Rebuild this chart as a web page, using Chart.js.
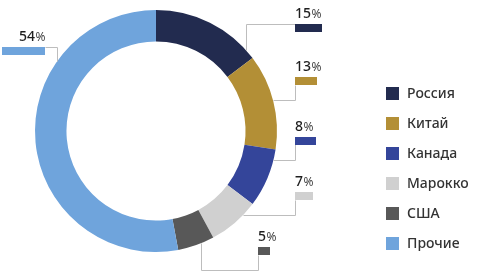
<!DOCTYPE html>
<html>
<head>
<meta charset="utf-8">
<script src="https://cdn.jsdelivr.net/npm/chart.js@4"></script>
<style>
  html, body { margin: 0; padding: 0; background: #fff; }
  #wrap { width: 480px; height: 277px; }
</style>
</head>
<body>
<div id="wrap"><canvas id="chart" width="480" height="277"></canvas></div>
<script>
const countries = ['Россия', 'Китай', 'Канада', 'Марокко', 'США', 'Прочие'];
const shares = [15, 13, 8, 7, 5, 54];
const colors = ['#222b4f', '#b38f36', '#34459a', '#d0d0d0', '#585858', '#6fa4dc'];

// where each value label sits: bar box, text alignment, and leader path
// path: points from bar to ring; last segment goes to the ring
const callouts = [
  { bx: 295, by: 24, bw: 27, align: 'left', path: [[295, 24], [246, 24]], end: 'v-up' },
  { bx: 295, by: 77, bw: 22, align: 'left', path: [[295, 85], [295, 100]], end: 'h-right' },
  { bx: 295, by: 137, bw: 21, align: 'left', path: [[295, 144], [295, 160]], end: 'h-right' },
  { bx: 295, by: 192, bw: 18, align: 'left', path: [[295, 200], [295, 215]], end: 'h-right' },
  { bx: 258, by: 247, bw: 12, align: 'left', path: [[258, 255], [258, 270], [201, 270]], end: 'v-down' },
  { bx: 2, by: 47, bw: 43, align: 'right', path: [[45, 47], [57, 47]], end: 'v-up' }
];

const calloutPlugin = {
  id: 'callouts',
  afterDatasetsDraw(chart) {
    const ctx = chart.ctx;
    const arc = chart.getDatasetMeta(0).data[0];
    const cx = arc.x, cy = arc.y, r = arc.outerRadius;
    ctx.save();
    callouts.forEach((c, i) => {
      // leader line
      const pts = c.path.slice();
      const last = pts[pts.length - 1];
      if (c.end === 'v-up' || c.end === 'v-down') {
        const dy = Math.sqrt(Math.max(r * r - (last[0] - cx) ** 2, 0));
        pts.push([last[0], c.end === 'v-up' ? cy - dy : cy + dy]);
      } else {
        const dx = Math.sqrt(Math.max(r * r - (last[1] - cy) ** 2, 0));
        pts.push([cx + dx, last[1]]);
      }
      ctx.strokeStyle = '#bdbdbd';
      ctx.lineWidth = 1;
      ctx.beginPath();
      pts.forEach((p, k) => {
        const x = Math.round(p[0]) + 0.5, y = Math.round(p[1]) + 0.5;
        if (k === 0) ctx.moveTo(x, y); else ctx.lineTo(x, y);
      });
      ctx.stroke();

      // colour bar
      ctx.fillStyle = colors[i];
      ctx.fillRect(c.bx, c.by, c.bw, 8);

      // value text
      const num = String(shares[i]);
      const numFont = '500 14px "Noto Sans"';
      const pctFont = '400 12px "Noto Sans"';
      ctx.textBaseline = 'alphabetic';
      ctx.font = numFont;
      const nw = ctx.measureText(num).width;
      ctx.font = pctFont;
      const pw = ctx.measureText('%').width;
      const x0 = c.align === 'left' ? c.bx : c.bx + c.bw - nw - pw;
      const base = c.by - 6;
      ctx.font = numFont;
      ctx.fillStyle = '#1e1e1e';
      ctx.fillText(num, x0, base);
      ctx.font = pctFont;
      ctx.fillStyle = '#444';
      ctx.fillText('%', x0 + nw + 0.5, base);
    });

    // legend
    ctx.textBaseline = 'middle';
    ctx.font = '500 14px "Noto Sans"';
    countries.forEach((name, i) => {
      const y = 93 + i * 30;
      ctx.fillStyle = colors[i];
      ctx.fillRect(386, y - 6, 13, 13);
      ctx.fillStyle = '#333';
      ctx.fillText(name, 407, y + 1);
    });
    ctx.restore();
  }
};

new Chart(document.getElementById('chart'), {
  type: 'doughnut',
  data: {
    labels: countries,
    datasets: [{
      data: shares,
      backgroundColor: colors,
      borderWidth: 0,
      hoverOffset: 0
    }]
  },
  options: {
    responsive: false,
    animation: false,
    cutout: '74%',
    layout: { padding: { left: 35, right: 203, top: 10, bottom: 25 } },
    plugins: {
      legend: { display: false },
      tooltip: { enabled: false }
    }
  },
  plugins: [calloutPlugin]
});
</script>
</body>
</html>
